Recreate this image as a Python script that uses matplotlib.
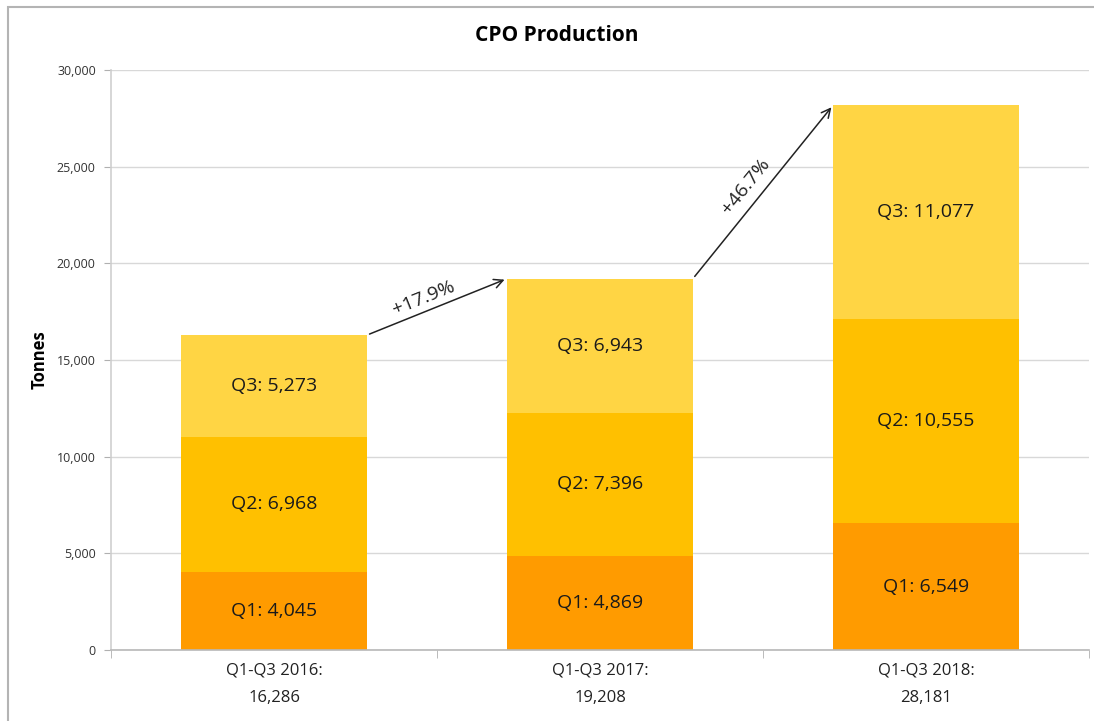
import matplotlib.pyplot as plt
import matplotlib.patches as patches
import numpy as np

categories = ["Q1-Q3 2016:\n16,286", "Q1-Q3 2017:\n19,208", "Q1-Q3 2018:\n28,181"]
q1 = [4045, 4869, 6549]
q2 = [6968, 7396, 10555]
q3 = [5273, 6943, 11077]
totals = [16286, 19208, 28181]
growth = ["+17.9%", "+46.7%"]

colors = ["#FF9B00", "#FFC000", "#FFD544"]
plt.rcParams['font.family'] = ['Open Sans', 'DejaVu Sans']

fig = plt.figure(figsize=(10.94, 7.21), dpi=100)
ax = fig.add_axes([0.1015, 0.0985, 0.894, 0.8045])

x = np.arange(len(categories))
w = 0.57
b2 = np.array(q1)
b3 = b2 + np.array(q2)
ax.bar(x, q1, w, color=colors[0], zorder=2)
ax.bar(x, q2, w, bottom=b2, color=colors[1], zorder=2)
ax.bar(x, q3, w, bottom=b3, color=colors[2], zorder=2)

for i in x:
    ax.text(i, q1[i] / 2, f"Q1: {q1[i]:,}", ha="center", va="center", fontsize=14, color="#1a1a1a", zorder=3)
    ax.text(i, b2[i] + q2[i] / 2, f"Q2: {q2[i]:,}", ha="center", va="center", fontsize=14, color="#1a1a1a", zorder=3)
    ax.text(i, b3[i] + q3[i] / 2, f"Q3: {q3[i]:,}", ha="center", va="center", fontsize=14, color="#1a1a1a", zorder=3)

ax.set_xlim(-0.5, 2.5)
ax.set_ylim(0, 30000)
ax.set_yticks(np.arange(0, 30001, 5000))
ax.set_yticklabels([f"{v:,}" for v in range(0, 30001, 5000)], fontsize=9, color="#333333")
ax.yaxis.grid(True, color="#d8d8d8", linewidth=1.0, zorder=0)
ax.set_axisbelow(True)
ax.set_xticks(x)
ax.set_xticklabels(categories, fontsize=12, color="#222222", linespacing=2.0)
ax.set_xticks([-0.5, 0.5, 1.5, 2.5], minor=True)
ax.tick_params(axis="x", which="major", length=0, pad=9)
ax.tick_params(axis="x", which="minor", length=6, color="#b0b0b0")
ax.tick_params(axis="y", length=5, color="#b0b0b0", pad=6)
for s in ["top", "right"]:
    ax.spines[s].set_visible(False)
ax.spines["left"].set_color("#d0d0d0")
ax.spines["bottom"].set_color("#b8b8b8")
ax.spines["left"].set_linewidth(1.2)
ax.spines["bottom"].set_linewidth(1.2)

ax.set_ylabel("Tonnes", fontsize=12, fontweight="bold", labelpad=6)
fig.text(0.509, 0.951, "CPO Production", ha="center", va="center", fontsize=15, fontweight="bold")

# growth arrows
for i in range(2):
    x0, y0 = i + w / 2, totals[i]
    x1, y1 = i + 1 - w / 2, totals[i + 1]
    ax.annotate("", xy=(x1, y1), xytext=(x0, y0),
                arrowprops=dict(arrowstyle="->", color="#222222", lw=1.1, mutation_scale=16), zorder=4)
    p0 = ax.transData.transform((x0, y0))
    p1 = ax.transData.transform((x1, y1))
    ang = np.degrees(np.arctan2(p1[1] - p0[1], p1[0] - p0[0]))
    ax.text((x0 + x1) / 2 - 0.03, (y0 + y1) / 2, growth[i], rotation=ang, rotation_mode="anchor",
            ha="center", va="bottom", fontsize=14, color="#222222",
            transform_rotates_text=False, zorder=4)

fig.add_artist(patches.Rectangle((0.0075, -0.05), 1.05, 1.04, transform=fig.transFigure,
                                 fill=False, edgecolor="#b4b4b4", linewidth=1.5))

fig.savefig("out.png", dpi=100)
